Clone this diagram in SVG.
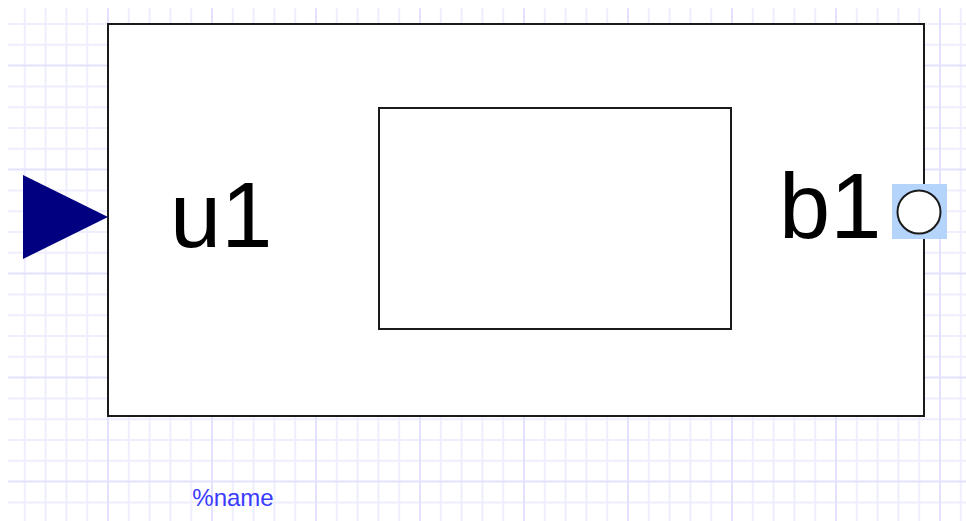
<svg xmlns="http://www.w3.org/2000/svg" width="966" height="521" viewBox="0 0 966 521">
  <defs>
    <style>
      .g { fill: none; stroke: #eeeeff; stroke-width: 2; }
      .gm { fill: none; stroke: #e2e2ff; stroke-width: 2; }
      .box { fill: #ffffff; stroke: #1a1a1a; stroke-width: 2; }
      .lbl { font-family: "Liberation Sans", Arial, sans-serif; font-size: 92px; fill: #000000; }
      .nm { font-family: "Liberation Sans", Arial, sans-serif; font-size: 24px; fill: #3a3aff; }
    </style>
  </defs>
  <rect width="966" height="521" fill="#ffffff"/>
  <g id="grid-bg">
    <path class="g" d="M24.8 8V521M45.6 8V521M66.4 8V521M87.2 8V521M128.8 8V521M149.6 8V521M170.4 8V521M191.2 8V521M232.8 8V521M253.6 8V521M274.4 8V521M295.2 8V521M336.8 8V521M357.6 8V521M378.4 8V521M399.2 8V521M440.8 8V521M461.6 8V521M482.4 8V521M503.2 8V521M544.8 8V521M565.6 8V521M586.4 8V521M607.2 8V521M648.8 8V521M669.6 8V521M690.4 8V521M711.2 8V521M752.8 8V521M773.6 8V521M794.4 8V521M815.2 8V521M856.8 8V521M877.6 8V521M898.4 8V521M919.2 8V521M960.8 8V521"/>
    <path class="g" d="M8 24H966M8 44.8H966M8 86.4H966M8 107.2H966M8 128H966M8 148.8H966M8 190.4H966M8 211.2H966M8 232H966M8 252.8H966M8 294.4H966M8 315.2H966M8 336H966M8 356.8H966M8 398.4H966M8 419.2H966M8 440H966M8 460.8H966M8 502.4H966"/>
    <path class="gm" d="M108 8V521M212 8V521M316 8V521M420 8V521M524 8V521M628 8V521M732 8V521M836 8V521M940 8V521M8 65.6H966M8 169.6H966M8 273.6H966M8 377.6H966M8 481.6H966"/>
  </g>
  <g id="block">
    <rect class="box" x="108" y="24" width="816" height="392"/>
    <rect class="box" x="379" y="108" width="352" height="221"/>
  </g>
  <g id="u1">
    <polygon points="23,175 108,217 23,259" fill="#000080"/>
    <text class="lbl" x="170" y="247">u1</text>
  </g>
  <g id="b1">
    <rect x="892" y="184" width="55" height="55" fill="#b4d4fc"/>
    <circle cx="919" cy="212" r="21.5" fill="#ffffff" stroke="#1a1a1a" stroke-width="2"/>
    <text class="lbl" x="779" y="238">b1</text>
  </g>
  <g id="name">
    <text class="nm" x="233" y="506" text-anchor="middle">%name</text>
  </g>
  <g id="connectors"/>
</svg>
